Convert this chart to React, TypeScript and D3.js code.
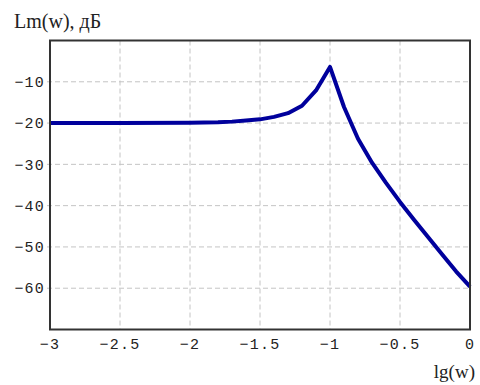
import React from "react";
import * as d3 from "d3";

const lgW = [-3, -2.5, -2, -1.8, -1.7, -1.6, -1.5, -1.4, -1.3, -1.2, -1.1, -1, -0.9, -0.8, -0.7, -0.6, -0.5, -0.4, -0.3, -0.2, -0.1, 0];
const lm = [-20, -20, -19.9, -19.8, -19.65, -19.4, -19.1, -18.5, -17.6, -15.8, -12.1, -6.4, -16.1, -23.8, -29.6, -34.5, -39.1, -43.4, -47.6, -51.8, -55.9, -59.6];
const xTicks = [-3, -2.5, -2, -1.5, -1, -0.5, 0];
const yTicks = [-10, -20, -30, -40, -50, -60];
const yTitle = "Lm(w), дБ";
const xTitle = "lg(w)";

export default function App() {
  const W = 480, H = 385;
  const left = 50, right = 470, top = 40.5, bottom = 329.5;
  const x = d3.scaleLinear().domain([-3, 0]).range([left, right]);
  const y = d3.scaleLinear().domain([0, -70]).range([top, bottom]);
  const pts: [number, number][] = lgW.map((v, i) => [v, lm[i]]);
  const line = d3.line<[number, number]>().x(d => x(d[0])).y(d => y(d[1]));
  const fmt = (v: number) => (v < 0 ? "\u2212" : "") + String(Math.abs(v));
  const mono = "'Liberation Mono', 'Courier New', monospace";
  const serif = "'Liberation Serif', 'Times New Roman', serif";
  return (
    <svg width={W} height={H} style={{ position: "absolute", left: 0, top: 0, background: "#fff" }}>
      <g stroke="#c4c4c4" strokeWidth={1} strokeDasharray="5,3">
        {xTicks.map(t => (
          <line key={"gx" + t} x1={x(t)} x2={x(t)} y1={top} y2={bottom} />
        ))}
        {yTicks.map(t => (
          <line key={"gy" + t} x1={left - 3} x2={right} y1={y(t)} y2={y(t)} />
        ))}
      </g>
      <path d={line(pts) || ""} fill="none" stroke="#00009c" strokeWidth={4} strokeLinejoin="round" />
      <rect x={left} y={top} width={right - left} height={bottom - top} fill="none" stroke="#333" strokeWidth={2} />
      <g fontFamily={mono} fontSize={15} fill="#222" letterSpacing={1.2}>
        {yTicks.map(t => (
          <text key={"ty" + t} x={left - 5} y={y(t)} dy="0.35em" textAnchor="end">{fmt(t)}</text>
        ))}
        {xTicks.map(t => (
          <text key={"tx" + t} x={x(t)} y={349} textAnchor="middle">{fmt(t)}</text>
        ))}
      </g>
      <text x={14} y={28} fontFamily={serif} fontSize={20} fill="#222">{yTitle}</text>
      <text x={475} y={378} fontFamily={serif} fontSize={19} fill="#222" textAnchor="end">{xTitle}</text>
    </svg>
  );
}
